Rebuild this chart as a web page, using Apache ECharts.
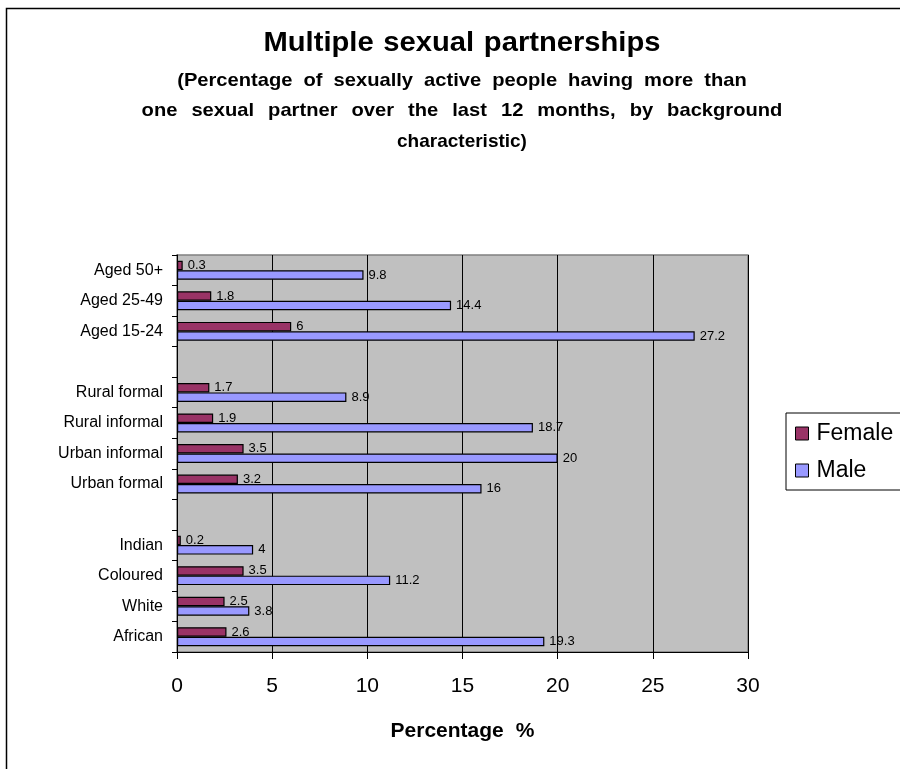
<!DOCTYPE html>
<html>
<head>
<meta charset="utf-8">
<script src="https://cdn.jsdelivr.net/npm/echarts@6/dist/echarts.min.js"></script>
<style>
  html, body { margin: 0; padding: 0; background: #fff; }
  #chart { width: 900px; height: 769px; }
</style>
</head>
<body>
<div id="chart"></div>
<script>
// Categories listed bottom to top; blank entries are spacer rows between groups
const categories = ['African', 'White', 'Coloured', 'Indian', ' ',
  'Urban formal', 'Urban informal', 'Rural informal', 'Rural formal', '  ',
  'Aged 15-24', 'Aged 25-49', 'Aged 50+'];
const female = [2.6, 2.5, 3.5, 0.2, null, 3.2, 3.5, 1.9, 1.7, null, 6, 1.8, 0.3];
const male = [19.3, 3.8, 11.2, 4, null, 16, 20, 18.7, 8.9, null, 27.2, 14.4, 9.8];
const xTicks = [0, 5, 10, 15, 20, 25, 30];

const titleText = 'Multiple sexual partnerships';
const subtitleLines = [
  '(Percentage of sexually active people having more than',
  'one sexual partner over the last 12 months, by background',
  'characteristic)'
];
const axisTitle = 'Percentage %';

const FONT = 'Liberation Sans, Arial, sans-serif';

// Wrap every word gap in a rich token so the gap can be widened
const widenSpaces = s => s.split(' ').join('{s| }');
const gapStyle = (size, w) => ({ s: { width: w, fontSize: size, fontWeight: 'bold', fontFamily: FONT } });

function headingText(text, y, size, gap, scaleX) {
  return {
    type: 'text', x: 462, y: y, scaleX: scaleX, silent: true,
    style: {
      text: widenSpaces(text),
      align: 'center', verticalAlign: 'middle',
      fontFamily: FONT, fontSize: size, fontWeight: 'bold', fill: '#000',
      rich: gapStyle(size, gap)
    }
  };
}

const chart = echarts.init(document.getElementById('chart'), null, { renderer: 'canvas' });

const valueLabel = {
  show: true,
  position: 'right',
  distance: 5,
  fontFamily: FONT,
  fontSize: 13,
  color: '#000',
  formatter: p => String(p.value)
};

chart.setOption({
  backgroundColor: '#fff',
  animation: false,
  graphic: [
    { type: 'rect', shape: { x: 6.5, y: 8.5, width: 1000, height: 1000 },
      style: { fill: 'none', stroke: '#000', lineWidth: 1.5 }, silent: true, z: 100 },
    headingText(titleText, 44, 27, 9, 1.08),
    headingText(subtitleLines[0], 81, 19, 10.4, 1.06),
    headingText(subtitleLines[1], 111, 19, 13.2, 1.06),
    headingText(subtitleLines[2], 142, 19, 6, 1.0)
  ],
  legend: {
    orient: 'vertical',
    left: 786,
    top: 413,
    padding: [9, 40, 8, 9],
    itemWidth: 13,
    itemHeight: 13,
    itemGap: 14,
    borderColor: '#000',
    borderWidth: 1,
    icon: 'rect',
    itemStyle: { borderColor: '#000', borderWidth: 1 },
    textStyle: { fontFamily: FONT, fontSize: 23, color: '#000', padding: [0, 0, 0, 3] },
    data: ['Female', 'Male']
  },
  grid: {
    left: 177, right: 152, top: 255, bottom: 117,
    show: true,
    backgroundColor: '#c0c0c0',
    borderColor: '#808080',
    borderWidth: 1.5
  },
  xAxis: {
    type: 'value',
    min: 0, max: 30, interval: 5,
    name: widenSpaces(axisTitle),
    nameLocation: 'middle',
    nameGap: 69,
    nameTextStyle: { fontFamily: FONT, fontSize: 21, fontWeight: 'bold', color: '#000',
      rich: gapStyle(21, 12) },
    axisLine: { show: true, lineStyle: { color: '#000', width: 1 } },
    axisTick: { show: true, length: 7, lineStyle: { color: '#000' } },
    axisLabel: { fontFamily: FONT, fontSize: 21, color: '#000', margin: 24,
      formatter: v => xTicks.includes(v) ? String(v) : '' },
    splitLine: { show: true, lineStyle: { color: '#000', width: 1 } }
  },
  yAxis: {
    type: 'category',
    data: categories,
    axisLine: { show: true, lineStyle: { color: '#000', width: 1 } },
    axisTick: { show: true, length: 5, lineStyle: { color: '#000' } },
    axisLabel: { fontFamily: FONT, fontSize: 16, color: '#000', margin: 14, interval: 0 },
    splitLine: { show: false }
  },
  series: [
    {
      name: 'Female', type: 'bar', data: female,
      barGap: '0%', barCategoryGap: '38%',
      itemStyle: { color: '#993366', borderColor: '#000', borderWidth: 1.2 },
      label: valueLabel
    },
    {
      name: 'Male', type: 'bar', data: male,
      barGap: '0%', barCategoryGap: '38%',
      itemStyle: { color: '#9999ff', borderColor: '#000', borderWidth: 1.2 },
      label: valueLabel
    }
  ]
});
</script>
</body>
</html>
